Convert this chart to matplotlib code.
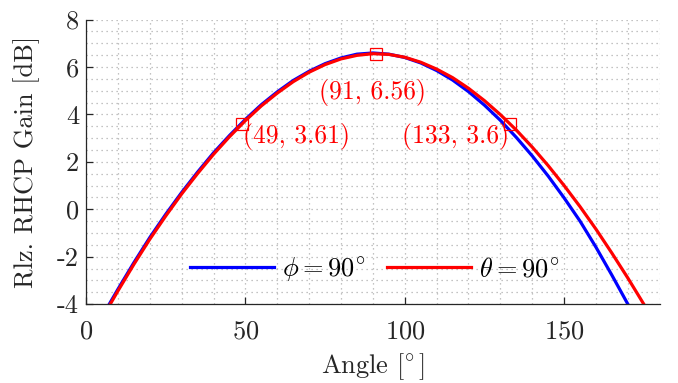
import numpy as np
import matplotlib
matplotlib.use("Agg")
import matplotlib.pyplot as plt
from matplotlib.ticker import MultipleLocator

plt.rcParams['font.family'] = 'serif'
plt.rcParams['font.serif'] = ['cmr10', 'DejaVu Serif']
plt.rcParams['mathtext.fontset'] = 'cm'
plt.rcParams['axes.unicode_minus'] = False
plt.rcParams['axes.formatter.use_mathtext'] = True

# angle samples [deg]
angle = [5, 10, 15, 20, 25, 30, 35, 40, 45, 50, 55, 60, 65, 70, 75, 80, 85, 90,
         95, 100, 105, 110, 115, 120, 125, 130, 135, 140, 145, 150, 155, 160,
         165, 170, 175, 180]

# phi = 90 cut (blue)
gain_phi = [-4.53, -3.37, -2.25, -1.19, -0.21, 0.71, 1.57, 2.38, 3.11, 3.79,
            4.41, 4.95, 5.43, 5.82, 6.14, 6.38, 6.54, 6.59, 6.54, 6.40, 6.17,
            5.85, 5.45, 4.96, 4.39, 3.75, 3.03, 2.25, 1.40, 0.48, -0.50, -1.60,
            -2.78, -4.00, -5.26, -6.60]

# theta = 90 cut (red)
gain_theta = [-4.60, -3.44, -2.32, -1.26, -0.28, 0.65, 1.51, 2.32, 3.06, 3.74,
              4.36, 4.90, 5.38, 5.78, 6.10, 6.34, 6.49, 6.56, 6.53, 6.41, 6.20,
              5.91, 5.55, 5.10, 4.58, 3.99, 3.34, 2.62, 1.84, 1.00, 0.11, -0.84,
              -1.85, -2.90, -4.00, -5.15]

# data tips on the red curve
tip_x = [49, 91, 133]
tip_y = [3.61, 6.56, 3.6]
tip_labels = ["(49, 3.61)", "(91, 6.56)", "(133, 3.6)"]

fig = plt.figure(figsize=(6.78, 3.83), dpi=100)
ax = fig.add_axes([0.127, 0.206, 0.846, 0.743])

ax.plot(angle, gain_phi, color=(0, 0, 1), lw=2.3, label=r'$\phi = 90^{\!\circ}$')
ax.plot(angle, gain_theta, color=(1, 0, 0), lw=2.3, label=r'$\theta = 90^{\!\circ}$')
ax.plot(tip_x, tip_y, ls='none', marker='s', ms=8, mfc='none', mec=(1, 0, 0), mew=0.9)

# labels of the data tips
fs = 18.5
ax.text(tip_x[0] + 0.2, 3.05, tip_labels[0], color='red', fontsize=fs, ha='left', va='center')
ax.text(tip_x[1] - 1.2, 4.93, tip_labels[1], color='red', fontsize=fs, ha='center', va='center')
ax.text(tip_x[2] - 0.2, 3.05, tip_labels[2], color='red', fontsize=fs, ha='right', va='center')

ax.set_xlim(0, 180)
ax.set_ylim(-4, 8)
ax.set_xticks([0, 50, 100, 150])
ax.set_yticks([-4, -2, 0, 2, 4, 6, 8])
ax.set_yticklabels(["-4", "-2", "0", "2", "4", "6", "8"])
ax.xaxis.set_minor_locator(MultipleLocator(10))
ax.yaxis.set_minor_locator(MultipleLocator(0.5))
ax.grid(which='both', color='#b0b0b0', ls=(0, (1, 3)), lw=0.9)
ax.tick_params(which='major', direction='in', length=5, width=0.9, labelsize=19, colors='#262626')
ax.tick_params(which='minor', length=0)
ax.tick_params(axis='x', pad=11)
ax.tick_params(axis='y', pad=5)
for s in ['top', 'right']:
    ax.spines[s].set_visible(False)
for s in ['left', 'bottom']:
    ax.spines[s].set_color('#262626')
    ax.spines[s].set_linewidth(0.9)

ax.set_xlabel(r'Angle [$\!^\circ$]', fontsize=19, color='#262626', labelpad=6)
ax.set_ylabel('Rlz. RHCP Gain [dB]', fontsize=19, color='#262626', labelpad=12)

ax.legend(loc='center', bbox_to_anchor=(0.503, 0.123), ncol=2, frameon=False,
          fontsize=19, handlelength=3.2, handletextpad=0.3, columnspacing=0.8)

fig.savefig("out.png", dpi=100)
